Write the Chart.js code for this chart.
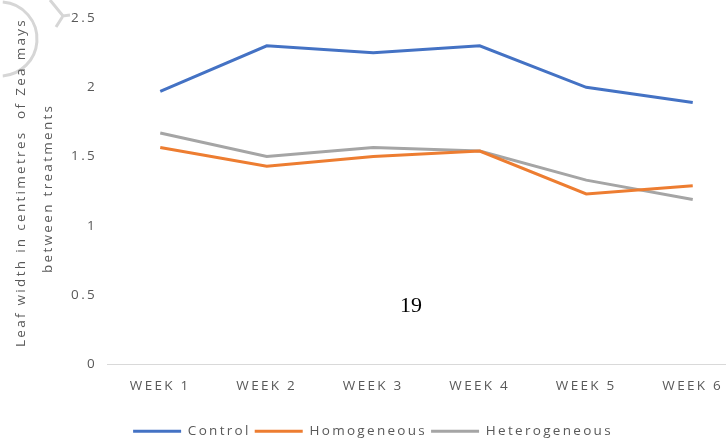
<!DOCTYPE html>
<html>
<head>
<meta charset="utf-8">
<script src="https://cdn.jsdelivr.net/npm/chart.js@4/dist/chart.umd.min.js"></script>
<style>
    html, body { margin: 0; padding: 0; background: #fff; overflow: hidden; }
    #wrap { position: relative; width: 750px; height: 442px; }
    #pagina { position: absolute; left: 400px; top: 292px; font-family: "Liberation Serif", serif; font-size: 22px; color: #000; }
</style>
</head>
<body>
<div id="wrap">
    <canvas id="grafico" width="750" height="442"></canvas>
    <div id="pagina">19</div>
</div>
<script>
const semanas = ['WEEK 1', 'WEEK 2', 'WEEK 3', 'WEEK 4', 'WEEK 5', 'WEEK 6'];
const controle = [1.97, 2.30, 2.25, 2.30, 2.00, 1.89];
const homogeneo = [1.565, 1.43, 1.50, 1.54, 1.23, 1.29];
const heterogeneo = [1.67, 1.50, 1.565, 1.54, 1.33, 1.19];
const ticksY = [0, 0.5, 1, 1.5, 2, 2.5];

const CINZA_TEXTO = '#595959';
const FONTE = { family: 'Open Sans', size: 13.5 };

// espaçamento entre letras, o contexto perde isso quando o canvas é redimensionado
const espacamento = {
    id: 'espacamento',
    beforeLayout(chart) { chart.ctx.letterSpacing = '2.3px'; },
    beforeDraw(chart) {
        const ctx = chart.ctx;
        ctx.letterSpacing = '2.3px';
        // marca cinza no canto superior esquerdo
        ctx.save();
        ctx.strokeStyle = '#d6d6d6';
        ctx.lineWidth = 3;
        ctx.beginPath();
        ctx.arc(0, 39, 37, -Math.PI / 2.1, Math.PI / 2.1);
        ctx.stroke();
        ctx.beginPath();
        ctx.moveTo(50, 0); ctx.lineTo(63, 16); ctx.lineTo(70, 15);
        ctx.moveTo(63, 16); ctx.lineTo(56, 27);
        ctx.stroke();
        ctx.restore();
    }
};

function serie(label, data, cor) {
    return {
        label: label,
        data: data,
        borderColor: cor,
        backgroundColor: cor,
        borderWidth: 3,
        pointRadius: 0,
        tension: 0,
        fill: false
    };
}

new Chart(document.getElementById('grafico'), {
    type: 'line',
    data: {
        labels: semanas,
        datasets: [
            serie('Control', controle, '#4472C4'),
            serie('Homogeneous', homogeneo, '#ED7D31'),
            serie('Heterogeneous', heterogeneo, '#A5A5A5')
        ]
    },
    plugins: [espacamento],
    options: {
        responsive: false,
        animation: false,
        layout: { padding: { top: 13, right: 4, bottom: -6, left: 0 } },
        plugins: {
            tooltip: { enabled: false },
            legend: {
                position: 'bottom',
                labels: {
                    boxWidth: 48,
                    boxHeight: 3,
                    padding: 4,
                    color: CINZA_TEXTO,
                    font: FONTE,
                    generateLabels: (chart) => Chart.defaults.plugins.legend.labels
                        .generateLabels(chart).map(l => ({ ...l, lineWidth: 0 }))
                }
            }
        },
        scales: {
            x: {
                offset: true,
                afterFit: (s) => { s.height += 12; },
                grid: { display: false, drawTicks: false },
                border: { color: '#d9d9d9', width: 1 },
                ticks: {
                    color: CINZA_TEXTO,
                    padding: 14,
                    maxRotation: 0,
                    font: FONTE
                }
            },
            y: {
                min: 0,
                max: 2.5,
                afterBuildTicks: (s) => { s.ticks = ticksY.map(v => ({ value: v })); },
                afterFit: (s) => { s.width = 107; },
                grid: { display: false, drawTicks: false },
                border: { display: false },
                ticks: {
                    color: CINZA_TEXTO,
                    padding: 10,
                    font: FONTE,
                    callback: (v) => String(v)
                },
                title: {
                    display: true,
                    text: ['   Leaf width in centimetres  of Zea mays', ' between treatments'],
                    color: CINZA_TEXTO,
                    padding: { top: 8, bottom: 0 },
                    font: { family: 'Open Sans', size: 13.5, lineHeight: 2 }
                }
            }
        }
    }
});
</script>
</body>
</html>
